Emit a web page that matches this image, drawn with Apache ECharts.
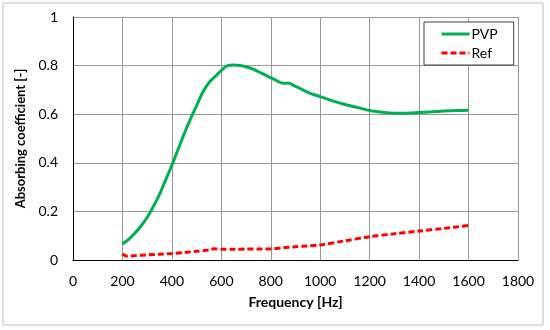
<!DOCTYPE html>
<html><head><meta charset="utf-8">
<script src="https://cdn.jsdelivr.net/npm/echarts@6/dist/echarts.min.js"></script>
<style>html,body{margin:0;padding:0;background:#fff}#c{width:550px;height:330px}</style>
</head><body><div id="c"></div>
<script>
var pvpFreq = [200, 225, 250, 275, 300, 325, 350, 375, 400, 425, 450, 475, 500, 525, 550, 575, 600, 625, 650, 675, 700, 730, 760, 790, 820, 850, 870, 890, 920, 950, 1000, 1050, 1100, 1150, 1200, 1250, 1300, 1350, 1400, 1450, 1500, 1550, 1600];
var pvpVal  = [0.066, 0.085, 0.11, 0.14, 0.175, 0.22, 0.27, 0.33, 0.39, 0.455, 0.52, 0.58, 0.635, 0.69, 0.73, 0.755, 0.78, 0.80, 0.802, 0.80, 0.795, 0.785, 0.77, 0.755, 0.74, 0.727, 0.728, 0.72, 0.705, 0.69, 0.672, 0.655, 0.64, 0.628, 0.615, 0.608, 0.604, 0.604, 0.607, 0.61, 0.613, 0.615, 0.616];
var refFreq = [200, 220, 250, 300, 350, 400, 450, 500, 550, 570, 600, 650, 700, 750, 800, 850, 900, 950, 1000, 1100, 1200, 1300, 1400, 1500, 1600];
var refVal  = [0.025, 0.015, 0.018, 0.021, 0.024, 0.027, 0.031, 0.036, 0.041, 0.046, 0.044, 0.044, 0.045, 0.045, 0.046, 0.05, 0.055, 0.058, 0.062, 0.079, 0.096, 0.108, 0.119, 0.13, 0.142];
var xTicks = [0, 200, 400, 600, 800, 1000, 1200, 1400, 1600, 1800];
var yTicks = [0, 0.2, 0.4, 0.6, 0.8, 1];

function pairs(xs, ys){ return xs.map(function(x,i){return [x, ys[i]];}); }
var font = 'Lato, "Open Sans", "Liberation Sans", sans-serif';
var chart = echarts.init(document.getElementById('c'), null, {renderer:'canvas'});
chart.setOption({
  animation: false,
  backgroundColor: '#fff',
  textStyle: {fontFamily: font},
  graphic: [{type:'rect', shape:{x:3, y:3, width:540, height:322}, style:{fill:'none', stroke:'#bfbfbf', lineWidth:1}, silent:true}],
  grid: {left: 73, right: 32, top: 17, bottom: 70},
  legend: {
    orient: 'vertical', left: 424, top: 22,
    padding: [5, 16, 5, 16], itemGap: 5, itemWidth: 28, itemHeight: 14,
    borderColor: '#404040', borderWidth: 1, backgroundColor: '#fff',
    itemStyle: {opacity: 0},
    lineStyle: {width: 3},
    textStyle: {fontSize: 14, color: '#000', fontFamily: font, padding:[0,0,0,-3]},
    data: ['PVP', 'Ref']
  },
  xAxis: {
    type: 'value', min: 0, max: 1800, interval: 200,
    name: 'Frequency [Hz]', nameLocation: 'middle', nameGap: 35,
    nameTextStyle: {fontSize: 14, fontWeight: 'bold', color: '#000', fontFamily: font},
    axisLine: {show: true, lineStyle: {color: '#000', width: 1}},
    axisTick: {show: false},
    axisLabel: {fontSize: 14, color: '#000', margin: 14, fontFamily: font,
      formatter: function(v){ return String(v); }},
    splitLine: {show: true, lineStyle: {color: '#999', width: 1}}
  },
  yAxis: {
    type: 'value', min: 0, max: 1, interval: 0.2,
    name: 'Absorbing coefficient [-]', nameLocation: 'middle', nameGap: 39, nameRotate: 90,
    nameTextStyle: {fontSize: 13, fontWeight: 'bold', color: '#000', fontFamily: font},
    axisLine: {show: true, lineStyle: {color: '#000', width: 1}},
    axisTick: {show: false},
    axisLabel: {fontSize: 14, color: '#000', margin: 15, fontFamily: font,
      formatter: function(v){ return String(Math.round(v*10)/10); }},
    splitLine: {show: true, lineStyle: {color: '#999', width: 1}}
  },
  series: [
    {name: 'PVP', type: 'line', data: pairs(pvpFreq, pvpVal), showSymbol: false, symbol: 'none', smooth: 0.3,
     lineStyle: {color: '#00b050', width: 3}, itemStyle: {color: '#00b050'}},
    {name: 'Ref', type: 'line', data: pairs(refFreq, refVal), showSymbol: false, symbol: 'none', smooth: 0.3,
     lineStyle: {color: '#ff0000', width: 3, type: [6, 3]}, itemStyle: {color: '#ff0000'}}
  ]
});
</script></body></html>
